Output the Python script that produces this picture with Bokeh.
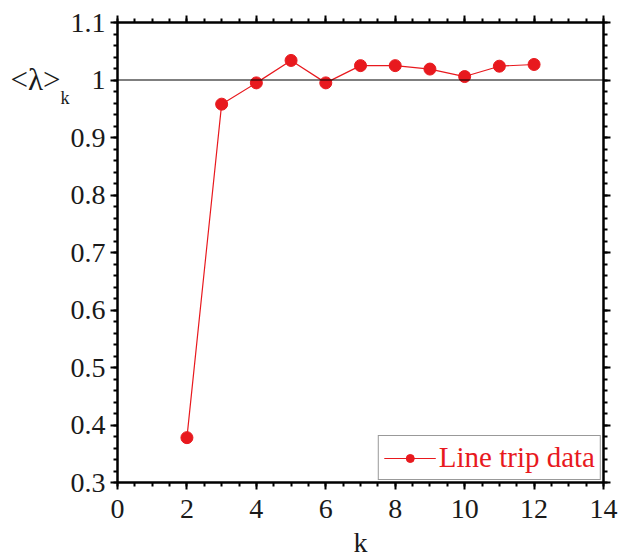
from bokeh.plotting import figure
from bokeh.models import (Range1d, SingleIntervalTicker, LinearAxis, Span, Label,
                          Legend, LegendItem, CustomJSTickFormatter)
from bokeh.embed import file_html
from bokeh.resources import INLINE

k_values = [2, 3, 4, 5, 6, 7, 8, 9, 10, 11, 12]
lambda_values = [0.378, 0.958, 0.995, 1.034, 0.995, 1.025, 1.025, 1.019, 1.006, 1.024, 1.027]
series_name = "Line trip data"
x_label = "k"
y_label_main = "<λ>"
y_label_sub = "k"

RED = "#e8191e"
FONT = "Liberation Serif"
INK = "#1a1a1a"

p = figure(width=619, height=560, output_backend="svg", toolbar_location=None,
           x_range=Range1d(0, 14), y_range=Range1d(0.3, 1.1),
           min_border_left=117, min_border_right=16, min_border_top=22, min_border_bottom=77,
           background_fill_color="white", border_fill_color="white")
p.outline_line_color = "black"
p.outline_line_width = 2
p.xgrid.visible = False
p.ygrid.visible = False

xt = SingleIntervalTicker(interval=2, num_minor_ticks=4)
yt = SingleIntervalTicker(interval=0.1, num_minor_ticks=5)
yfmt = CustomJSTickFormatter(code="return parseFloat(tick.toFixed(2)).toString();")

def style(ax, labels=True):
    ax.axis_line_color = "black"
    ax.axis_line_width = 2
    ax.major_tick_line_color = "black"
    ax.major_tick_line_width = 2
    ax.minor_tick_line_color = "black"
    ax.minor_tick_line_width = 2
    ax.major_tick_in = 0
    ax.major_tick_out = 7
    ax.minor_tick_in = 0
    ax.minor_tick_out = 4
    ax.major_label_text_font = FONT
    ax.major_label_text_font_size = "28px"
    ax.major_label_text_color = INK if labels else None
    ax.major_label_standoff = 5

p.xaxis.ticker = xt
p.yaxis.ticker = yt
p.yaxis.formatter = yfmt
for ax in p.xaxis + p.yaxis:
    style(ax)
p.xaxis.major_label_standoff = 10
p.xaxis.axis_label = x_label
p.xaxis.axis_label_text_font = FONT
p.xaxis.axis_label_text_font_size = "28px"
p.xaxis.axis_label_text_font_style = "normal"
p.xaxis.axis_label_text_color = INK
p.xaxis.axis_label_standoff = 6

top = LinearAxis(ticker=SingleIntervalTicker(interval=2, num_minor_ticks=4))
style(top, labels=False)
p.add_layout(top, "above")
right = LinearAxis(ticker=SingleIntervalTicker(interval=0.1, num_minor_ticks=5))
style(right, labels=False)
p.add_layout(right, "right")

p.add_layout(Span(location=1.0, dimension="width", line_color="black", line_width=1.2))

ln = p.line(k_values, lambda_values, line_color=RED, line_width=1.2)
sc = p.scatter(k_values, lambda_values, size=12, fill_color=RED, line_color=RED)

legend = Legend(items=[LegendItem(label=series_name, renderers=[ln, sc])],
                location="bottom_right", border_line_color="#333333", border_line_width=1.5,
                label_text_font=FONT, label_text_font_size="29px", label_text_color=RED,
                margin=2, padding=5, spacing=0, glyph_width=52, label_standoff=3,
                background_fill_alpha=1)
p.add_layout(legend)

# y-axis label drawn in the left border (centre annotations are clipped to the frame)
p.add_layout(Label(x=2, y=375, x_units="screen", y_units="screen", text=y_label_sub,
                   text_font=FONT, text_font_size="18px", text_color=INK), "left")
p.add_layout(Label(x=2, y=386, x_units="screen", y_units="screen", text=y_label_main,
                   text_font=FONT, text_font_size="31px", text_color=INK), "left")

open("out.html", "w").write(file_html(p, INLINE))
